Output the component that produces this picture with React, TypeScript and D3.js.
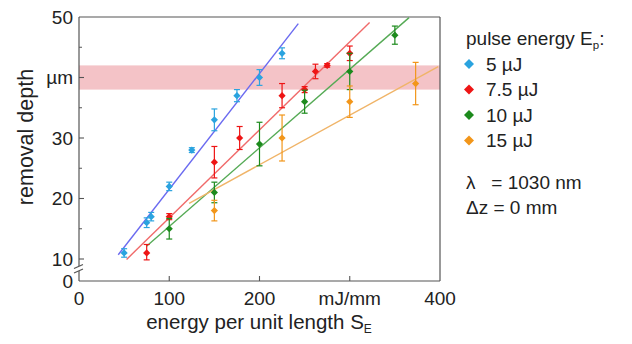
import React from "react";
import * as d3 from "d3";

const W = 632;
const H = 344;

// series: [S_E (mJ/mm), depth (µm), error half-width]
const series5 = [
  [50, 11, 0.7], [75, 16, 0.8], [80, 17, 0.7], [100, 22, 0.7], [125, 28, 0.4],
  [150, 33, 1.8], [175, 37, 1.0], [200, 40, 1.3], [225, 44, 0.9],
];
const series75 = [
  [75, 11, 1.4], [100, 17, 0.5], [150, 26, 2.6], [178, 30, 1.9], [225, 37, 2.0],
  [250, 38, 0.5], [262, 41, 1.2], [275, 42, 0.3], [300, 44, 1.2],
];
const series10 = [
  [100, 15, 1.7], [150, 21, 1.7], [200, 29, 3.6], [250, 36, 1.9], [300, 41, 3.0], [350, 47, 1.5],
];
const series15 = [
  [150, 18, 1.7], [225, 30, 3.8], [300, 36, 2.6], [373, 39, 3.5],
];
// fit lines: [x0, y0, x1, y1]
const fit5 = [43.5, 10.7, 243, 48.9];
const fit75 = [52.7, 9.8, 322, 49.1];
const fit10 = [74.8, 12.1, 365.7, 49.9];
const fit15 = [122, 19.2, 398, 41.8];

const legendLabels = ["5 µJ", "7.5 µJ", "10 µJ", "15 µJ"];
const markerColors = ["#2aa3df", "#ee1515", "#1c8a1c", "#f2961a"];
const lineColors = ["#6a6af0", "#f06a6a", "#55aa55", "#f0b468"];

const xTicks = [0, 100, 200, 300, 400];
const xTickLabels = ["0", "100", "200", "mJ/mm", "400"];
const yMajor = [0, 10, 20, 30, 40, 50];
const yMajorLabels = ["0", "10", "20", "30", "µm", "50"];
const yMinor = [15, 25, 35, 45];
const band = [38, 42];

const x = d3.scaleLinear().domain([0, 400]).range([79, 440]);
const y = d3.scaleLinear().domain([0, 10, 50]).range([281, 259, 17]);

const font = "'Liberation Sans', Arial, sans-serif";
const txt = "#222";
const axisCol = "#555";
const tickFs = 19;
const titleFs = 20.5;
const legFs = 19;

function Diamond({ cx, cy, r, fill }: { cx: number; cy: number; r: number; fill: string }) {
  return <path d={`M${cx},${cy - r}L${cx + r},${cy}L${cx},${cy + r}L${cx - r},${cy}Z`} fill={fill} />;
}

export default function App() {
  const all = [series5, series75, series10, series15];
  const fits = [fit5, fit75, fit10, fit15];
  const left = x(0), right = x(400), top = y(50), bottom = y(0);
  return (
    <svg width={W} height={H} style={{ position: "absolute", left: 0, top: 0, background: "#fff" }} fontFamily={font}>
      <rect x={left} y={y(band[1])} width={right - left} height={y(band[0]) - y(band[1])} fill="#f2b8bd" opacity={0.85} />
      {/* frame */}
      <line x1={left} x2={right} y1={top} y2={top} stroke={axisCol} strokeWidth={1.2} />
      <line x1={right} x2={right} y1={top} y2={bottom} stroke={axisCol} strokeWidth={1.2} />
      <line x1={left} x2={right} y1={bottom} y2={bottom} stroke={axisCol} strokeWidth={1.2} />
      <line x1={left} x2={left} y1={top} y2={bottom} stroke={axisCol} strokeWidth={1.2} />
      {/* axis break */}
      <rect x={left - 4} y={266} width={8} height={5} fill="#fff" />
      <line x1={left - 5} x2={left + 4} y1={268.5} y2={264.5} stroke={axisCol} strokeWidth={1.1} />
      <line x1={left - 5} x2={left + 4} y1={273} y2={269} stroke={axisCol} strokeWidth={1.1} />
      {/* ticks */}
      {yMajor.map((v, i) => (
        <g key={"ym" + i}>
          {v !== 0 && v !== 50 && <line x1={left} x2={left + 5} y1={y(v)} y2={y(v)} stroke={axisCol} strokeWidth={1.1} />}
          <text x={73} y={y(v)} dy="0.36em" textAnchor="end" fontSize={tickFs} fill={txt}>{yMajorLabels[i]}</text>
        </g>
      ))}
      {yMinor.map((v) => (
        <line key={"yn" + v} x1={left} x2={left + 3} y1={y(v)} y2={y(v)} stroke={axisCol} strokeWidth={1} />
      ))}
      {xTicks.map((v, i) => (
        <g key={"xt" + i}>
          {v !== 0 && v !== 400 && <line x1={x(v)} x2={x(v)} y1={bottom} y2={bottom - 5} stroke={axisCol} strokeWidth={1.1} />}
          <text x={x(v)} y={305} textAnchor="middle" fontSize={tickFs} fill={txt}>{xTickLabels[i]}</text>
        </g>
      ))}
      {/* axis titles */}
      <text x={259} y={329} textAnchor="middle" fontSize={titleFs} fill={txt}>
        energy per unit length S<tspan fontSize={12} dy={4}>E</tspan>
      </text>
      <text transform={`translate(33,137) rotate(-90)`} textAnchor="middle" fontSize={21.5} fill={txt}>removal depth</text>
      {/* fit lines */}
      {fits.map((f, i) => (
        <line key={"f" + i} x1={x(f[0])} y1={y(f[1])} x2={x(f[2])} y2={y(f[3])} stroke={lineColors[i]} strokeWidth={1.4} />
      ))}
      {/* points */}
      {all.map((s, si) => (
        <g key={"s" + si}>
          {s.map((p, pi) => {
            const cx = x(p[0]);
            const y0 = y(p[1] - p[2]);
            const y1 = y(p[1] + p[2]);
            return (
              <g key={pi}>
                <line x1={cx} x2={cx} y1={y0} y2={y1} stroke={markerColors[si]} strokeWidth={1.2} />
                <line x1={cx - 3} x2={cx + 3} y1={y0} y2={y0} stroke={markerColors[si]} strokeWidth={1.2} />
                <line x1={cx - 3} x2={cx + 3} y1={y1} y2={y1} stroke={markerColors[si]} strokeWidth={1.2} />
                <Diamond cx={cx} cy={y(p[1])} r={3.6} fill={markerColors[si]} />
              </g>
            );
          })}
        </g>
      ))}
      {/* legend */}
      <text x={466} y={45} fontSize={legFs} fill={txt}>
        pulse energy E<tspan fontSize={11.5} dy={4}>p</tspan><tspan dy={-4}>:</tspan>
      </text>
      {legendLabels.map((l, i) => (
        <g key={"l" + i}>
          <Diamond cx={469} cy={64 + i * 25.5} r={5} fill={markerColors[i]} />
          <text x={486} y={64 + i * 25.5} dy="0.36em" fontSize={legFs} fill={txt}>{l}</text>
        </g>
      ))}
      <text x={466} y={182} dy="0.36em" fontSize={legFs} fill={txt} xmlSpace="preserve">λ   = 1030 nm</text>
      <text x={466} y={207} dy="0.36em" fontSize={legFs} fill={txt}>Δz = 0 mm</text>
    </svg>
  );
}
